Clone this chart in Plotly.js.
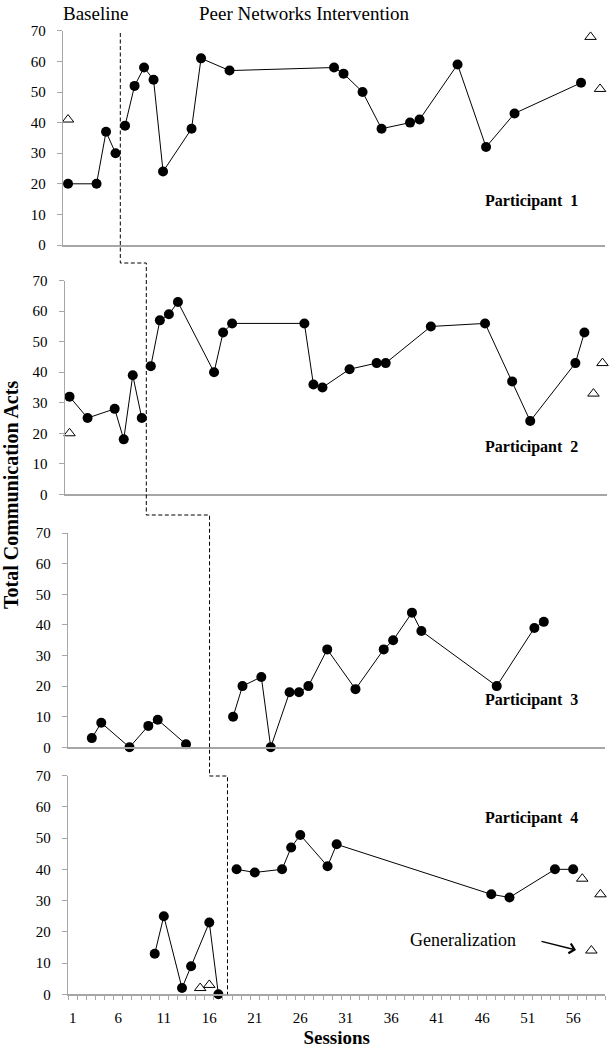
<!DOCTYPE html>
<html><head><meta charset="utf-8">
<script src="https://cdn.plot.ly/plotly-3.0.1.min.js"></script>
<style>html,body{margin:0;padding:0;background:#fff}#chart{width:610px;height:1050px}</style>
</head><body><div id="chart"></div>
<script>
// ---------- data ----------
const p1BaseSessions = [1, 4, 5, 6];
const p1BaseValues   = [20, 20, 37, 30];
const p1IntSessions  = [7, 8, 9, 10, 11, 14, 15, 18, 29, 30, 32, 34, 37, 38, 42, 45, 48, 55];
const p1IntValues    = [39, 52, 58, 54, 24, 38, 61, 57, 58, 56, 50, 38, 40, 41, 59, 32, 43, 53];
const p1GenSessions  = [1, 56, 57];
const p1GenValues    = [41, 68, 51];

const p2BaseSessions = [1, 3, 6, 7, 8, 9];
const p2BaseValues   = [32, 25, 28, 18, 39, 25];
const p2IntSessions  = [10, 11, 12, 13, 17, 18, 19, 27, 28, 29, 32, 35, 36, 41, 47, 50, 52, 57, 58];
const p2IntValues    = [42, 57, 59, 63, 40, 53, 56, 56, 36, 35, 41, 43, 43, 55, 56, 37, 24, 43, 53];
const p2GenSessions  = [1, 59, 60];
const p2GenValues    = [20, 33, 43];

const p3BaseSessions = [3, 4, 7, 9, 10, 13];
const p3BaseValues   = [3, 8, 0, 7, 9, 1];
const p3IntSessions  = [18, 19, 21, 22, 24, 25, 26, 28, 31, 34, 35, 37, 38, 46, 50, 51];
const p3IntValues    = [10, 20, 23, 0, 18, 18, 20, 32, 19, 32, 35, 44, 38, 20, 39, 41];
const p3GenSessions  = [];
const p3GenValues    = [];

const p4BaseSessions = [10, 11, 13, 14, 16, 17];
const p4BaseValues   = [13, 25, 2, 9, 23, 0];
const p4IntSessions  = [19, 21, 24, 25, 26, 29, 30, 47, 49, 54, 56];
const p4IntValues    = [40, 39, 40, 47, 51, 41, 48, 32, 31, 40, 40];
const p4GenSessions  = [15, 16, 57, 58, 59];
const p4GenValues    = [2, 3, 37, 14, 32];

const participantLabels = ['Participant  1', 'Participant  2', 'Participant  3', 'Participant  4'];
const phaseChangeAt  = [6.5, 9.5, 15.5, 18];   // session where the dashed phase line falls
const sessionCounts  = [57, 60, 57, 59];       // categories on each panel's axis
const yTickVals      = [0, 10, 20, 30, 40, 50, 60, 70];
const xTickVals      = [1, 6, 11, 16, 21, 26, 31, 36, 41, 46, 51, 56];
const xTickText      = ['1', '6', '11', '16', '21', '26', '31', '36', '41', '46', '51', '56'];

// ---------- layout geometry (pixels) ----------
const W = 610, H = 1050;
const SERIF = '"Liberation Serif", "Times New Roman", serif';
const panelsPx = [
  {x0: 63.3, x1: 604.8, yTop: 30.8,  yBot: 245.0},
  {x0: 65.0, x1: 607.0, yTop: 280.7, yBot: 494.3},
  {x0: 68.3, x1: 605.0, yTop: 533.1, yBot: 747.3},
  {x0: 68.3, x1: 605.0, yTop: 775.6, yBot: 994.3}
];
const px2x = p => p / W;
const px2y = p => 1 - p / H;

const panels = [
  {bs: p1BaseSessions, bv: p1BaseValues, is: p1IntSessions, iv: p1IntValues, gs: p1GenSessions, gv: p1GenValues},
  {bs: p2BaseSessions, bv: p2BaseValues, is: p2IntSessions, iv: p2IntValues, gs: p2GenSessions, gv: p2GenValues},
  {bs: p3BaseSessions, bv: p3BaseValues, is: p3IntSessions, iv: p3IntValues, gs: p3GenSessions, gv: p3GenValues},
  {bs: p4BaseSessions, bv: p4BaseValues, is: p4IntSessions, iv: p4IntValues, gs: p4GenSessions, gv: p4GenValues}
];

const traces = [];
const layout = {
  width: W, height: H,
  margin: {l: 0, r: 0, t: 0, b: 0},
  paper_bgcolor: '#fff', plot_bgcolor: 'rgba(0,0,0,0)',
  showlegend: false,
  font: {family: SERIF, color: '#000', size: 14},
  annotations: [], shapes: []
};

const lineMarker = {mode: 'lines+markers', line: {color: '#000', width: 1},
  marker: {symbol: 'circle', size: 10, color: '#000'}, cliponaxis: false, hoverinfo: 'skip'};
const genMarker = {mode: 'markers', marker: {symbol: 'triangle-up-open', size: 10, color: '#000', line: {width: 1, color: '#000'}},
  cliponaxis: false, hoverinfo: 'skip'};

panels.forEach((p, i) => {
  const n = i + 1;
  const xa = n === 1 ? 'x' : 'x' + n;
  const ya = n === 1 ? 'y' : 'y' + n;
  traces.push(Object.assign({x: p.bs, y: p.bv, xaxis: xa, yaxis: ya}, lineMarker));
  traces.push(Object.assign({x: p.is, y: p.iv, xaxis: xa, yaxis: ya}, lineMarker));
  if (p.gs.length) traces.push(Object.assign({x: p.gs, y: p.gv, xaxis: xa, yaxis: ya}, genMarker));

  const g = panelsPx[i];
  const isBottom = n === 4;
  const xKey = n === 1 ? 'xaxis' : 'xaxis' + n;
  const yKey = n === 1 ? 'yaxis' : 'yaxis' + n;
  layout[xKey] = {
    domain: [px2x(g.x0), px2x(g.x1)],
    anchor: ya,
    range: [0.5, sessionCounts[i] + 0.5],
    showgrid: false, zeroline: false,
    showline: true, linecolor: '#a6a6a6', linewidth: 1.5,
    fixedrange: true,
    tickmode: 'array',
    tickvals: isBottom ? xTickVals : [],
    ticktext: isBottom ? xTickText : [],
    ticks: isBottom ? 'outside' : '',
    ticklen: 0, tickcolor: 'rgba(0,0,0,0)',
    ticklabelstandoff: 9,
    tickfont: {family: SERIF, size: 15, color: '#000'},
    minor: isBottom ? {ticks: 'outside', tick0: 0.5, dtick: 1, ticklen: 4, tickcolor: '#a6a6a6', tickwidth: 1} : undefined,
    title: isBottom ? {text: '<b>Sessions</b>', font: {family: SERIF, size: 19, color: '#000'}, standoff: 6} : {text: ''}
  };
  layout[yKey] = {
    domain: [px2y(g.yBot), px2y(g.yTop)],
    anchor: xa,
    range: [0, 70],
    showgrid: false, zeroline: false,
    showline: true, linecolor: '#a6a6a6', linewidth: 1.5,
    fixedrange: true,
    tickmode: 'array', tickvals: yTickVals,
    ticks: 'outside', ticklen: 5, tickcolor: '#a6a6a6', tickwidth: 1,
    ticklabelstandoff: 8,
    tickfont: {family: SERIF, size: 15, color: '#000'}
  };
});

// convert a session on panel i to pixel x through the panel's axis scale
function sessionPx(i, s) {
  const g = panelsPx[i];
  const r = layout[i === 0 ? 'xaxis' : 'xaxis' + (i + 1)].range;
  return g.x0 + (s - r[0]) / (r[1] - r[0]) * (g.x1 - g.x0);
}
// dashed phase-change line stepping across the panels
const stepLevelsPx = [33, 263, 515, 776, 994.3];
let path = '';
phaseChangeAt.forEach((s, i) => {
  const xp = sessionPx(i, s);
  const yA = stepLevelsPx[i], yB = stepLevelsPx[i + 1];
  path += (i === 0 ? 'M' : 'L') + px2x(xp) + ',' + px2y(yA) + ' L' + px2x(xp) + ',' + px2y(yB) + ' ';
});
layout.shapes.push({type: 'path', xref: 'paper', yref: 'paper', path: path.trim(),
  line: {color: '#000', width: 1, dash: '4px,2.5px'}});

// participant labels
const labelYpx = [201, 447, 700, 818];
participantLabels.forEach((t, i) => {
  layout.annotations.push({xref: 'paper', yref: 'paper', x: px2x(580), y: px2y(labelYpx[i]),
    xanchor: 'right', yanchor: 'middle', showarrow: false, text: '<b>' + t + '</b>',
    font: {family: SERIF, size: 16, color: '#000'}});
});
// phase titles
layout.annotations.push({xref: 'paper', yref: 'paper', x: px2x(95), y: px2y(1), xanchor: 'center', yanchor: 'top',
  showarrow: false, text: 'Baseline', font: {family: SERIF, size: 19, color: '#000'}});
layout.annotations.push({xref: 'paper', yref: 'paper', x: px2x(304), y: px2y(1), xanchor: 'center', yanchor: 'top',
  showarrow: false, text: 'Peer Networks Intervention', font: {family: SERIF, size: 19, color: '#000'}});
// y title
layout.annotations.push({xref: 'paper', yref: 'paper', x: px2x(11), y: px2y(495), xanchor: 'center', yanchor: 'middle',
  showarrow: false, textangle: -90, text: '<b>Total Communication Acts</b>', font: {family: SERIF, size: 20, color: '#000'}});
// generalization note with arrow
layout.annotations.push({xref: 'paper', yref: 'paper', x: px2x(463), y: px2y(940), xanchor: 'center', yanchor: 'middle',
  showarrow: false, text: 'Generalization', font: {family: SERIF, size: 18, color: '#000'}});
layout.annotations.push({xref: 'paper', yref: 'paper', x: px2x(576), y: px2y(950), ax: -36, ay: -9,
  showarrow: true, arrowhead: 4, arrowsize: 1.3, arrowwidth: 1.5, arrowcolor: '#000', text: ''});

Plotly.newPlot('chart', traces, layout, {staticPlot: true, displayModeBar: false});
</script>
</body></html>
